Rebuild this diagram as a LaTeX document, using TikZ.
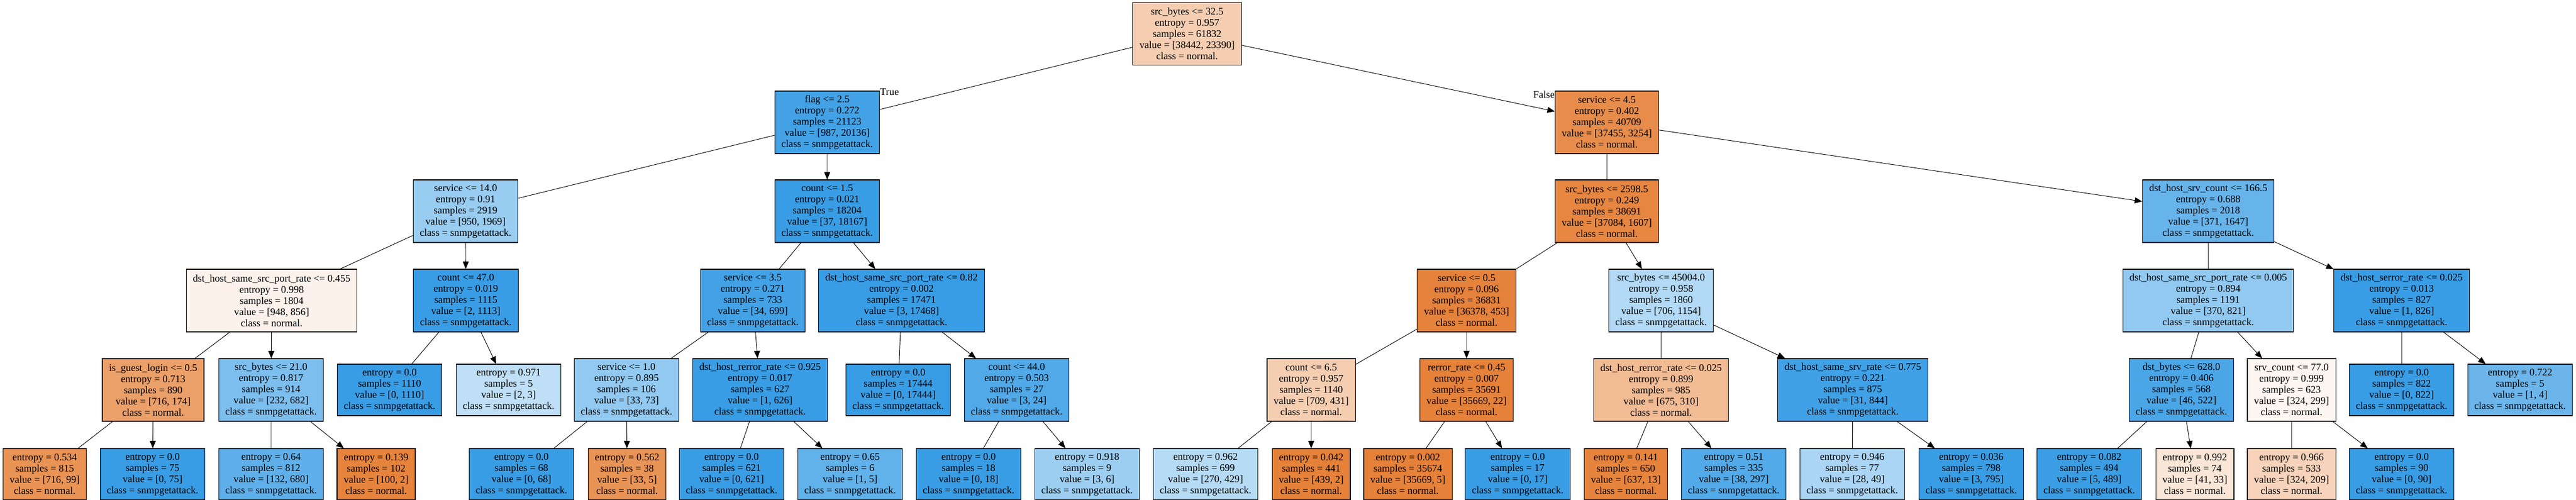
\documentclass[tikz,border=0pt]{standalone}
\usepackage{fontspec}
\setmainfont{Liberation Serif}
\usepackage{tikz}
\usetikzlibrary{arrows.meta}

\definecolor{normalc}{HTML}{E58139}
\definecolor{snmpc}{HTML}{399DE5}
\newcommand{\arbre}{\fontsize{13.6pt}{15pt}\selectfont}
\newcommand{\stats}[4]{entropy = #1\\samples = #2\\value = [#3]\\class = #4.}

\begin{document}
\begin{tikzpicture}[x=0.75pt,y=-0.75pt,
	noeud/.style={draw,rectangle,align=center,line width=0.8pt,inner xsep=9pt,inner ysep=0pt,minimum height=84pt,font=\arbre},
	feuille/.style={noeud,minimum height=69pt},
	arete/.style={-{Triangle[length=10pt,width=8pt]},line width=0.7pt}]
	%
	% Cadre de l'image
	\def\arbreXmax{4609}
	\def\arbreYmax{895}
	\useasboundingbox (0,0) rectangle (\arbreXmax,\arbreYmax);
	%
	% Niveau 1 et 2
	\node[noeud,fill=normalc!39] (r) at (2124,60.5) {src\_bytes <= 32.5\\\stats{0.957}{61832}{38442, 23390}{normal}};
	\node[noeud,fill=snmpc!95] (rg) at (1480,219) {flag <= 2.5\\\stats{0.272}{21123}{987, 20136}{snmpgetattack}};
	\node[noeud,fill=normalc!91] (rd) at (2875,219) {service <= 4.5\\\stats{0.402}{40709}{37455, 3254}{normal}};
	%
	% Niveau 3
	\node[noeud,fill=snmpc!52] (rgg) at (833,378) {service <= 14.0\\\stats{0.91}{2919}{950, 1969}{snmpgetattack}};
	\node[noeud,fill=snmpc] (rgd) at (1480,378) {count <= 1.5\\\stats{0.021}{18204}{37, 18167}{snmpgetattack}};
	\node[noeud,fill=normalc!96] (rdg) at (2875,378) {src\_bytes <= 2598.5\\\stats{0.249}{38691}{37084, 1607}{normal}};
	\node[noeud,fill=snmpc!77] (rdd) at (3951,378) {dst\_host\_srv\_count <= 166.5\\\stats{0.688}{2018}{371, 1647}{snmpgetattack}};
	%
	% Niveau 4
	\node[noeud,fill=normalc!10] (rggg) at (486,538) {dst\_host\_same\_src\_port\_rate <= 0.455\\\stats{0.998}{1804}{948, 856}{normal}};
	\node[noeud,fill=snmpc] (rggd) at (833.5,538) {count <= 47.0\\\stats{0.019}{1115}{2, 1113}{snmpgetattack}};
	\node[noeud,fill=snmpc!95] (rgdg) at (1347,538) {service <= 3.5\\\stats{0.271}{733}{34, 699}{snmpgetattack}};
	\node[noeud,fill=snmpc] (rgdd) at (1613,538) {dst\_host\_same\_src\_port\_rate <= 0.82\\\stats{0.002}{17471}{3, 17468}{snmpgetattack}};
	\node[noeud,fill=normalc!99] (rdgg) at (2624,538) {service <= 0.5\\\stats{0.096}{36831}{36378, 453}{normal}};
	\node[noeud,fill=snmpc!39] (rdgd) at (2972,538) {src\_bytes <= 45004.0\\\stats{0.958}{1860}{706, 1154}{snmpgetattack}};
	\node[noeud,fill=snmpc!55] (rddg) at (3951,538) {dst\_host\_same\_src\_port\_rate <= 0.005\\\stats{0.894}{1191}{370, 821}{snmpgetattack}};
	\node[noeud,fill=snmpc] (rddd) at (4297,538) {dst\_host\_serror\_rate <= 0.025\\\stats{0.013}{827}{1, 826}{snmpgetattack}};
	%
	% Niveau 5
	\node[noeud,fill=normalc!76] (rgggg) at (274,698) {is\_guest\_login <= 0.5\\\stats{0.713}{890}{716, 174}{normal}};
	\node[noeud,fill=snmpc!66] (rgggd) at (485,698) {src\_bytes <= 21.0\\\stats{0.817}{914}{232, 682}{snmpgetattack}};
	\node[feuille,fill=snmpc] (rggdg) at (697,698) {\stats{0.0}{1110}{0, 1110}{snmpgetattack}};
	\node[feuille,fill=snmpc!33] (rggdd) at (910,698) {\stats{0.971}{5}{2, 3}{snmpgetattack}};
	\node[noeud,fill=snmpc!55] (rgdgg) at (1121,698) {service <= 1.0\\\stats{0.895}{106}{33, 73}{snmpgetattack}};
	\node[noeud,fill=snmpc] (rgdgd) at (1360,698) {dst\_host\_rerror\_rate <= 0.925\\\stats{0.017}{627}{1, 626}{snmpgetattack}};
	\node[feuille,fill=snmpc] (rgddg) at (1607,698) {\stats{0.0}{17444}{0, 17444}{snmpgetattack}};
	\node[noeud,fill=snmpc!88] (rgddd) at (1819,698) {count <= 44.0\\\stats{0.503}{27}{3, 24}{snmpgetattack}};
	\node[noeud,fill=normalc!39] (rdggg) at (2346,698) {count <= 6.5\\\stats{0.957}{1140}{709, 431}{normal}};
	\node[noeud,fill=normalc] (rdggd) at (2624,698) {rerror\_rate <= 0.45\\\stats{0.007}{35691}{35669, 22}{normal}};
	\node[noeud,fill=normalc!54] (rdgdg) at (2972,698) {dst\_host\_rerror\_rate <= 0.025\\\stats{0.899}{985}{675, 310}{normal}};
	\node[noeud,fill=snmpc!96] (rdgdd) at (3315,698) {dst\_host\_same\_srv\_rate <= 0.775\\\stats{0.221}{875}{31, 844}{snmpgetattack}};
	\node[noeud,fill=snmpc!91] (rddgg) at (3903,698) {dst\_bytes <= 628.0\\\stats{0.406}{568}{46, 522}{snmpgetattack}};
	\node[noeud,fill=normalc!8] (rddgd) at (4100,698) {srv\_count <= 77.0\\\stats{0.999}{623}{324, 299}{normal}};
	\node[feuille,fill=snmpc] (rdddg) at (4297,698) {\stats{0.0}{822}{0, 822}{snmpgetattack}};
	\node[feuille,fill=snmpc!75] (rdddd) at (4509,698) {\stats{0.722}{5}{1, 4}{snmpgetattack}};
	%
	% Niveau 6 (feuilles)
	\node[feuille,fill=normalc!86] (rggggg) at (80,849) {\stats{0.534}{815}{716, 99}{normal}};
	\node[feuille,fill=snmpc] (rggggd) at (273,849) {\stats{0.0}{75}{0, 75}{snmpgetattack}};
	\node[feuille,fill=snmpc!81] (rgggdg) at (485,849) {\stats{0.64}{812}{132, 680}{snmpgetattack}};
	\node[feuille,fill=normalc!98] (rgggdd) at (673,849) {\stats{0.139}{102}{100, 2}{normal}};
	\node[feuille,fill=snmpc] (rgdggg) at (933,849) {\stats{0.0}{68}{0, 68}{snmpgetattack}};
	\node[feuille,fill=normalc!85] (rgdggd) at (1122,849) {\stats{0.562}{38}{33, 5}{normal}};
	\node[feuille,fill=snmpc] (rgdgdg) at (1309,849) {\stats{0.0}{621}{0, 621}{snmpgetattack}};
	\node[feuille,fill=snmpc!80] (rgdgdd) at (1521,849) {\stats{0.65}{6}{1, 5}{snmpgetattack}};
	\node[feuille,fill=snmpc] (rgdddg) at (1733,849) {\stats{0.0}{18}{0, 18}{snmpgetattack}};
	\node[feuille,fill=snmpc!50] (rgdddd) at (1945,849) {\stats{0.918}{9}{3, 6}{snmpgetattack}};
	\node[feuille,fill=snmpc!37] (rdgggg) at (2157,849) {\stats{0.962}{699}{270, 429}{snmpgetattack}};
	\node[feuille,fill=normalc] (rdgggd) at (2346,849) {\stats{0.042}{441}{439, 2}{normal}};
	\node[feuille,fill=normalc] (rdggdg) at (2519,849) {\stats{0.002}{35674}{35669, 5}{normal}};
	\node[feuille,fill=snmpc] (rdggdd) at (2715.5,849) {\stats{0.0}{17}{0, 17}{snmpgetattack}};
	\node[feuille,fill=normalc!98] (rdgdgg) at (2909,849) {\stats{0.141}{650}{637, 13}{normal}};
	\node[feuille,fill=snmpc!87] (rdgdgd) at (3102,849) {\stats{0.51}{335}{38, 297}{snmpgetattack}};
	\node[feuille,fill=snmpc!43] (rdgddg) at (3314,849) {\stats{0.946}{77}{28, 49}{snmpgetattack}};
	\node[feuille,fill=snmpc] (rdgddd) at (3527,849) {\stats{0.036}{798}{3, 795}{snmpgetattack}};
	\node[feuille,fill=snmpc!99] (rddggg) at (3738,849) {\stats{0.082}{494}{5, 489}{snmpgetattack}};
	\node[feuille,fill=normalc!20] (rddggd) at (3927,849) {\stats{0.992}{74}{41, 33}{normal}};
	\node[feuille,fill=normalc!35] (rddgdg) at (4100,849) {\stats{0.966}{533}{324, 209}{normal}};
	\node[feuille,fill=snmpc] (rddgdd) at (4297,849) {\stats{0.0}{90}{0, 90}{snmpgetattack}};
	%
	% Aretes
	\foreach \p in {r,rg,rd,rgg,rgd,rdg,rdd,rggg,rggd,rgdg,rgdd,rdgg,rdgd,rddg,rddd,rgggg,rgggd,rgdgg,rgdgd,rgddd,rdggg,rdggd,rdgdg,rdgdd,rddgg,rddgd}
		\draw[arete] (\p) -- (\p g) (\p) -- (\p d);
	%
	% Etiquettes True / False
	\node[anchor=west,inner sep=0pt,font=\arbre] (lblvrai) at ([yshift=-2pt]rg.north east) {True};
	\node[anchor=east,inner sep=0pt,font=\arbre] (lblfaux) at ([yshift=-5pt]rd.north west) {False};
\end{tikzpicture}
\end{document}
